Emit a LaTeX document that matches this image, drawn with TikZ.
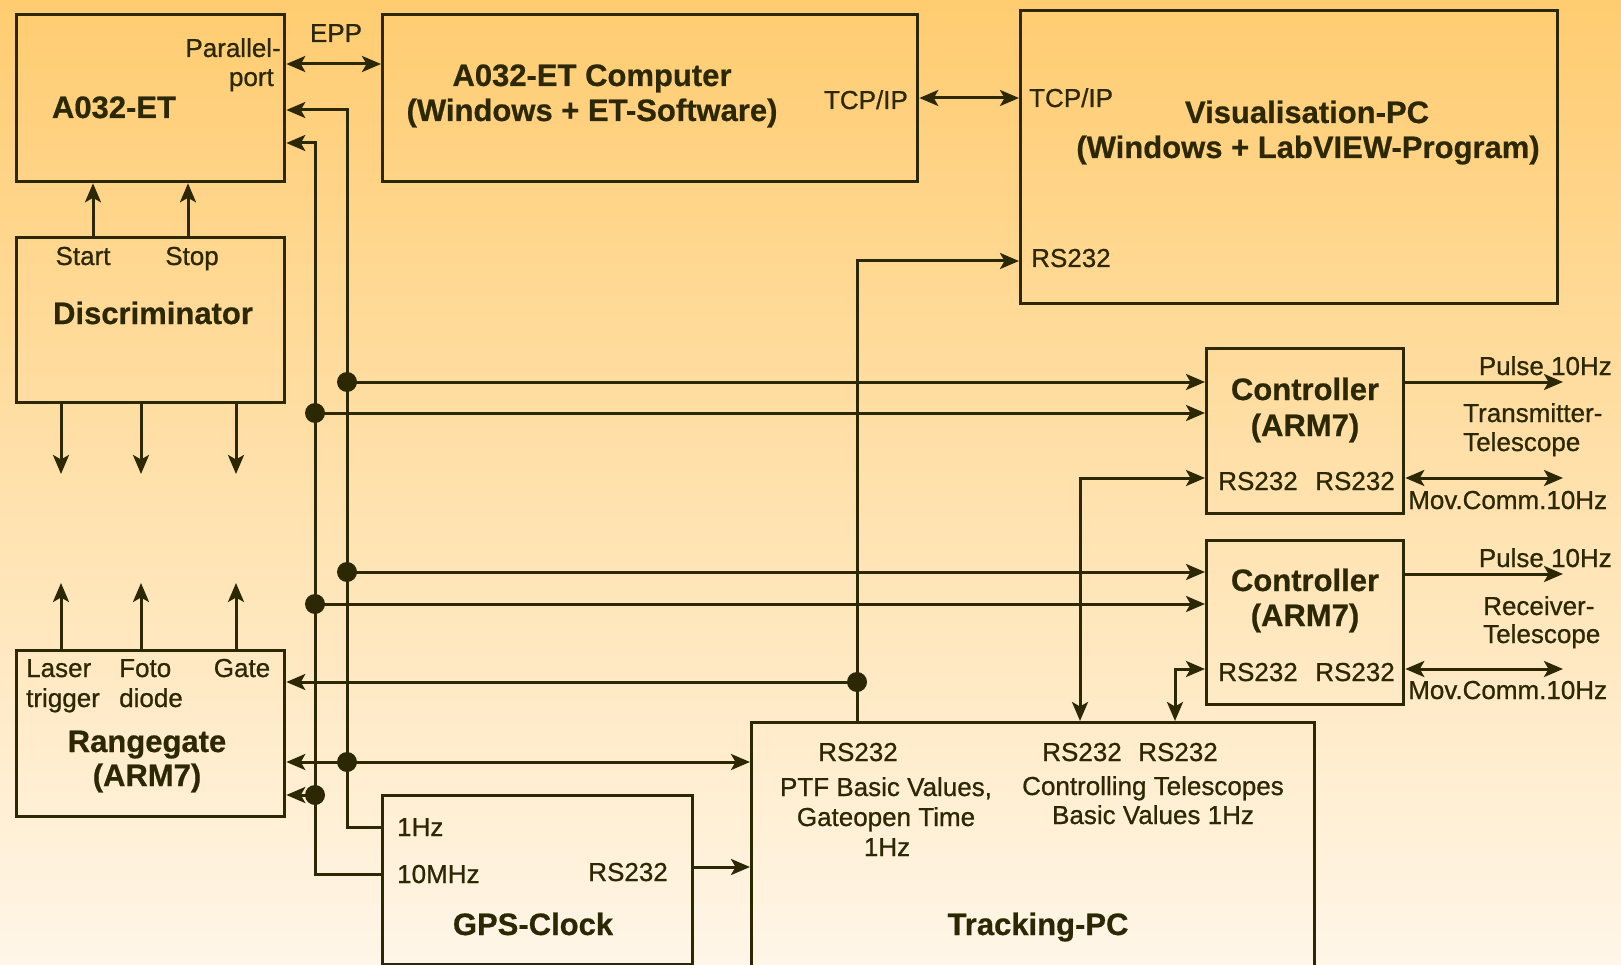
\documentclass[tikz,border=0pt]{standalone}
\usepackage{fontspec}
\setmainfont{Liberation Sans}
\newfontfamily\smfont[FakeBold=0.8]{Liberation Sans}
\newfontfamily\bffont[FakeBold=0.6]{Liberation Sans Bold}
\usetikzlibrary{arrows.meta}
\definecolor{ink}{RGB}{44,40,4}
\definecolor{bgtop}{RGB}{255,204,112}
\definecolor{bgbot}{RGB}{255,246,232}
\begin{document}
\begin{tikzpicture}[x=1pt,y=-1pt,
  >={Stealth[length=19pt,width=16pt,inset=4.5pt]},
  box/.style={draw=ink,line width=3.3pt,inner sep=0pt,anchor=north west},
  sm/.style={text=ink,font=\smfont\fontsize{26}{30}\selectfont,inner sep=0pt},
  bf/.style={text=ink,font=\bffont\fontsize{31}{36}\selectfont,inner sep=0pt},
  wire/.style={draw=ink,line width=3pt},
  jdot/.style={circle,fill=ink,inner sep=0pt,minimum size=20pt}]
\useasboundingbox (0,0) rectangle (1621,965);
\shade[top color=bgtop,bottom color=bgbot] (0,0) rectangle (1621,965);
\clip (0,0) rectangle (1621,965);

% boxes
\node[box,minimum width=268pt,minimum height=167pt] (a032) at (15,13) {};
\node[box,minimum width=535pt,minimum height=167pt] (comp) at (381,13) {};
\node[box,minimum width=537pt,minimum height=293pt] (vis) at (1019,9) {};
\node[box,minimum width=268pt,minimum height=165pt] (disc) at (15,236) {};
\node[box,minimum width=197pt,minimum height=165pt] (ctrlA) at (1205,347) {};
\node[box,minimum width=197pt,minimum height=164pt] (ctrlB) at (1205,539) {};
\node[box,minimum width=268pt,minimum height=166pt] (range) at (15,649) {};
\node[box,minimum width=310pt,minimum height=169pt] (gps) at (381,794) {};
\node[box,minimum width=563pt,minimum height=300pt] (track) at (750,721) {};

% texts
\node[bf,anchor=base] (ta032) at (114,118) {A032-ET};
\node[sm,anchor=base east] (tpar1) at (281,57) {Parallel-};
\node[sm,anchor=base east] (tpar2) at (274,86) {port};
\node[sm,anchor=base] (tepp) at (336,42) {EPP};
\node[bf,anchor=base] (tcomp1) at (592,86) {A032-ET Computer};
\node[bf,anchor=base] (tcomp2) at (592,121) {(Windows + ET-Software)};
\node[sm,anchor=base east] (ttcp1) at (908,109) {TCP/IP};
\node[sm,anchor=base west] (ttcp2) at (1029,107) {TCP/IP};
\node[bf,anchor=base] (tvis1) at (1307,123) {Visualisation-PC};
\node[bf,anchor=base] (tvis2) at (1308,158) {(Windows + LabVIEW-Program)};
\node[sm,anchor=base west] (tvisrs) at (1031,267) {RS232};
\node[sm,anchor=base] (tstart) at (83,265) {Start};
\node[sm,anchor=base] (tstop) at (192,265) {Stop};
\node[bf,anchor=base] (tdisc) at (153,324) {Discriminator};

\node[bf,anchor=base] (tcA1) at (1305,400) {Controller};
\node[bf,anchor=base] (tcA2) at (1305,436) {(ARM7)};
\node[sm,anchor=base] (tcA3) at (1258,490) {RS232};
\node[sm,anchor=base] (tcA4) at (1355,490) {RS232};
\node[bf,anchor=base] (tcB1) at (1305,591) {Controller};
\node[bf,anchor=base] (tcB2) at (1305,626) {(ARM7)};
\node[sm,anchor=base] (tcB3) at (1258,681) {RS232};
\node[sm,anchor=base] (tcB4) at (1355,681) {RS232};

\node[sm,anchor=base east] (tpulA) at (1612,375) {Pulse 10Hz};
\node[sm,anchor=base west] (ttrA1) at (1463,422) {Transmitter-};
\node[sm,anchor=base west] (ttrA2) at (1463,451) {Telescope};
\node[sm,anchor=base west] (tmovA) at (1408,509) {Mov.Comm.10Hz};
\node[sm,anchor=base east] (tpulB) at (1612,567) {Pulse 10Hz};
\node[sm,anchor=base west] (treB1) at (1483,615) {Receiver-};
\node[sm,anchor=base west] (treB2) at (1483,643) {Telescope};
\node[sm,anchor=base west] (tmovB) at (1408,699) {Mov.Comm.10Hz};

\node[sm,anchor=base west] (tlas1) at (26,677) {Laser};
\node[sm,anchor=base west] (tlas2) at (26,707) {trigger};
\node[sm,anchor=base west] (tfot1) at (119,677) {Foto};
\node[sm,anchor=base west] (tfot2) at (119,707) {diode};
\node[sm,anchor=base] (tgate) at (242,677) {Gate};
\node[bf,anchor=base] (trg1) at (147,752) {Rangegate};
\node[bf,anchor=base] (trg2) at (147,786) {(ARM7)};

\node[sm,anchor=base west] (tg1) at (397,836) {1Hz};
\node[sm,anchor=base west] (tg2) at (397,883) {10MHz};
\node[sm,anchor=base east] (tg3) at (668,881) {RS232};
\node[bf,anchor=base] (tg4) at (533,935) {GPS-Clock};

\node[sm,anchor=base] (tt1) at (858,761) {RS232};
\node[sm,anchor=base] (tt2) at (886,796) {PTF Basic Values,};
\node[sm,anchor=base] (tt3) at (886,826) {Gateopen Time};
\node[sm,anchor=base] (tt4) at (887,856) {1Hz};
\node[sm,anchor=base] (tt5) at (1082,761) {RS232};
\node[sm,anchor=base] (tt6) at (1178,761) {RS232};
\node[sm,anchor=base] (tt7) at (1153,795) {Controlling Telescopes};
\node[sm,anchor=base] (tt8) at (1153,824) {Basic Values 1Hz};
\node[bf,anchor=base] (tt9) at (1038,935) {Tracking-PC};

% junctions
\node[jdot] (b1) at (347,382) {};
\node[jdot] (b2) at (347,572) {};
\node[jdot] (b3) at (347,762) {};
\node[jdot] (c1) at (315,413) {};
\node[jdot] (c2) at (315,604) {};
\node[jdot] (c3) at (315,795) {};
\node[jdot] (j1) at (857,682) {};

% free ends
\coordinate (dd1) at (61,474);
\coordinate (dd2) at (141,474);
\coordinate (dd3) at (236,474);
\coordinate (ru1) at (61,583);
\coordinate (ru2) at (141,583);
\coordinate (ru3) at (236,583);
\coordinate (pA) at (1563,382);
\coordinate (mA) at (1563,478);
\coordinate (pB) at (1563,574);
\coordinate (mB) at (1563,669);

% connectors
\draw[wire,<->] (a032.east |- 0,64) -- (comp.west |- 0,64);
\draw[wire,<->] (comp.east |- 0,98) -- (vis.west |- 0,98);
\draw[wire,->] (disc.north -| 93,0) -- (a032.south -| 93,0);
\draw[wire,->] (disc.north -| 188,0) -- (a032.south -| 188,0);
\draw[wire,->] (disc.south -| dd1) -- (dd1);
\draw[wire,->] (disc.south -| dd2) -- (dd2);
\draw[wire,->] (disc.south -| dd3) -- (dd3);
\draw[wire,->] (range.north -| ru1) -- (ru1);
\draw[wire,->] (range.north -| ru2) -- (ru2);
\draw[wire,->] (range.north -| ru3) -- (ru3);

\draw[wire,->] (gps.west |- 0,827) -| (b1 |- 0,110) -- (a032.east |- 0,110);
\draw[wire,->] (gps.west |- 0,874) -| (c1 |- 0,143) -- (a032.east |- 0,143);
\draw[wire,->] (b1.center) -- (ctrlA.west |- b1);
\draw[wire,->] (c1.center) -- (ctrlA.west |- c1);
\draw[wire,->] (b2.center) -- (ctrlB.west |- b2);
\draw[wire,->] (c2.center) -- (ctrlB.west |- c2);
\draw[wire,<->] (range.east |- b3) -- (track.west |- b3);
\draw[wire,->] (c3.center) -- (range.east |- c3);
\draw[wire,->] (j1 |- track.north) -- (j1.center) -- (j1 |- 0,261) -- (vis.west |- 0,261);
\draw[wire,->] (j1.center) -- (range.east |- j1);
\draw[wire,->] (gps.east |- 0,867) -- (track.west |- 0,867);
\draw[wire,<->] (ctrlA.west |- mA) -| (track.north -| 1080,0);
\draw[wire,<->] (ctrlB.west |- mB) -| (track.north -| 1175,0);
\draw[wire,->] (ctrlA.east |- pA) -- (pA);
\draw[wire,<->] (ctrlA.east |- mA) -- (mA);
\draw[wire,->] (ctrlB.east |- pB) -- (pB);
\draw[wire,<->] (ctrlB.east |- mB) -- (mB);
\end{tikzpicture}
\end{document}
